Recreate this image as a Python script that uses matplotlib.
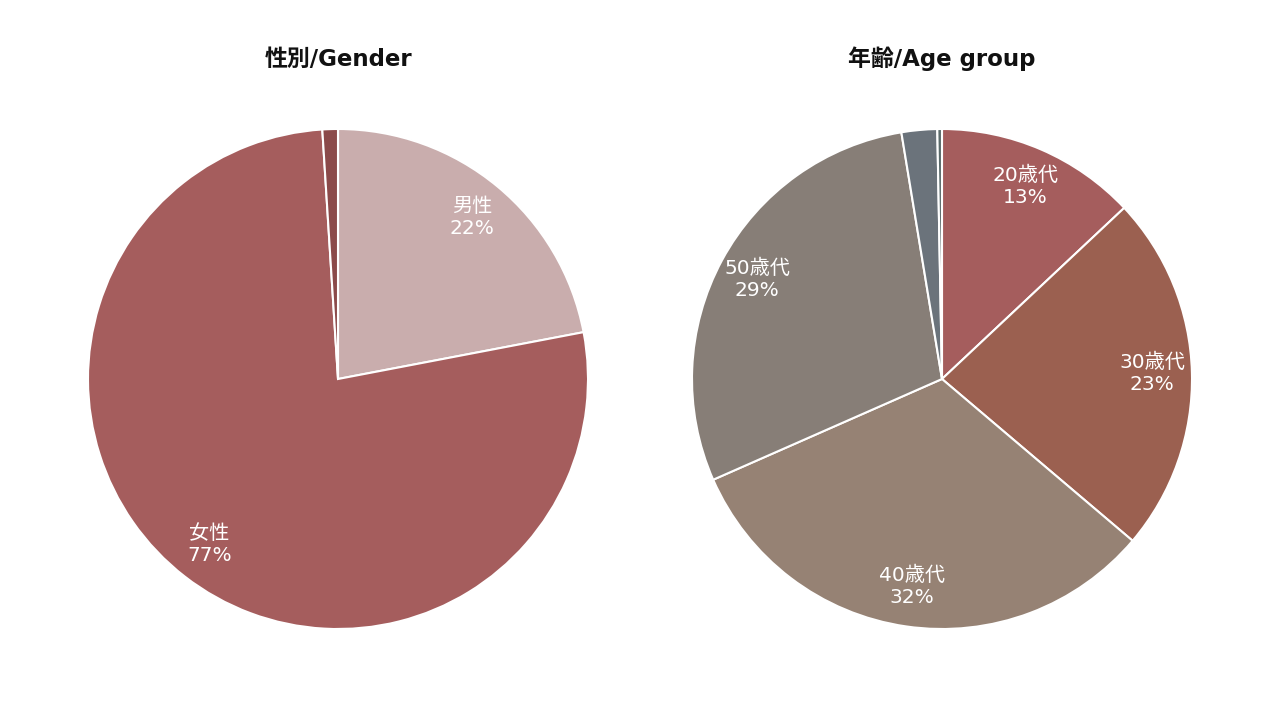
import matplotlib
matplotlib.use("Agg")
import matplotlib.pyplot as plt

plt.rcParams['font.family'] = ['DejaVu Sans', 'Noto Sans CJK JP']

gender_labels = ["男性", "女性", ""]
gender_values = [22.0, 77.0, 1.0]
gender_colors = ["#c9adad", "#a55d5d", "#8b4a4a"]

age_labels = ["20歳代", "30歳代", "40歳代", "50歳代", "", ""]
age_values = [13.0, 23.2, 32.2, 29.0, 2.3, 0.3]
age_colors = ["#a55d5d", "#9b6050", "#968274", "#877e77", "#6b737b", "#5a6a6a"]

W, H = 1280, 720
fig = plt.figure(figsize=(12.8, 7.2), dpi=100)

def draw(cx, cy, r, labels, values, colors, title):
    ax = fig.add_axes([(cx - r) / W, (H - cy - r) / H, 2 * r / W, 2 * r / H])
    total = sum(values)
    wedges, texts = ax.pie(values, colors=colors, startangle=90, counterclock=False,
                           radius=1, wedgeprops=dict(edgecolor="white", linewidth=1.5),
                           labels=[f"{l}\n{round(v / total * 100)}%" if l else "" for l, v in zip(labels, values)],
                           labeldistance=0.84,
                           textprops=dict(color="white", fontsize=14.5, ha="center", va="center",
                                          linespacing=1.2))
    for t in texts:
        t.set_ha("center")
    ax.set_xlim(-1, 1)
    ax.set_ylim(-1, 1)
    ax.set_aspect("equal")
    ax.axis("off")
    fig.text(cx / W, 1 - 59 / H, title, ha="center", va="center", fontsize=16.5,
             fontweight="bold", color="#111111")

draw(338, 379, 250, gender_labels, gender_values, gender_colors, "性別/Gender")
draw(942, 379, 250, age_labels, age_values, age_colors, "年齢/Age group")

fig.savefig("out.png", dpi=100, facecolor="white")
